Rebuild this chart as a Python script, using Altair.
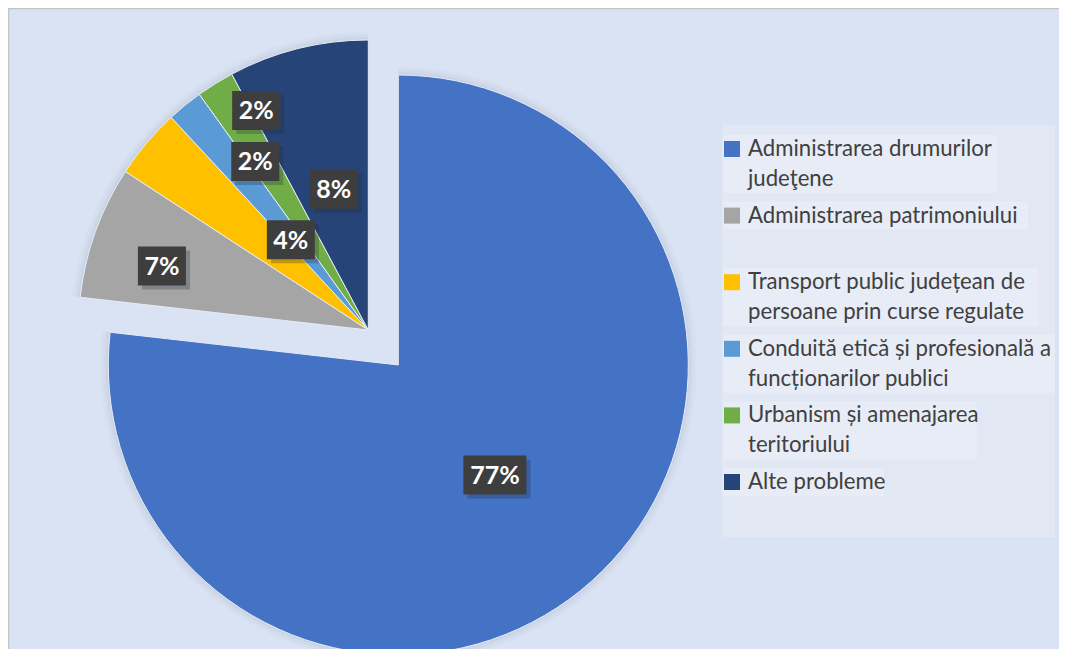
import math
import altair as alt
import pandas as pd

# ---------------- data ----------------
categories = [
    "Administrarea drumurilor judeţene",
    "Administrarea patrimoniului",
    "Transport public județean de persoane prin curse regulate",
    "Conduită etică și profesională a funcționarilor publici",
    "Urbanism și amenajarea teritoriului",
    "Alte probleme",
]
values = [76.8, 7.4, 3.9, 2.0, 2.1, 7.8]
legend_lines = [
    ["Administrarea drumurilor", "judeţene"],
    ["Administrarea patrimoniului"],
    ["Transport public județean de", "persoane prin curse regulate"],
    ["Conduită etică și profesională a", "funcționarilor publici"],
    ["Urbanism și amenajarea", "teritoriului"],
    ["Alte probleme"],
]

# ---------------- style / layout ----------------
colors = ["#4472C4", "#A5A5A5", "#FFC000", "#5B9BD5", "#70AD47", "#264478"]
W, H = 1051, 641
R = 290
main_center = (390.3, 357.0)
explode_center = (360.3, 322.0)
# data-label placement (Excel "best fit"): radius fraction, angular nudge (deg)
label_radius = [0.505, 0.745, 0.41, 0.70, 0.85, 0.50]
label_nudge = [0.5, -2.6, 9.2, 5.4, 4.8, 0.3]
BG = "#DAE3F3"
FONT = "Lato"

df = pd.DataFrame({
    "category": categories,
    "value": values,
    "order": list(range(len(categories))),
    "lr": label_radius,
    "nudge": label_nudge,
})

xs = alt.Scale(domain=[0, W], range=[0, W], nice=False, zero=False)
ys = alt.Scale(domain=[0, H], range=[0, H], nice=False, zero=False)
ts = alt.Scale(domain=[0, 1], range=[0, 2 * math.pi])
cscale = alt.Scale(domain=categories, range=colors)

base = (
    alt.Chart(df)
    .transform_joinaggregate(total="sum(value)")
    .transform_window(cum="sum(value)", sort=[alt.SortField("order")], frame=[None, 0])
    .transform_calculate(
        t0="(datum.cum - datum.value) / datum.total",
        t1="datum.cum / datum.total",
        cx=f"datum.order == 0 ? {main_center[0]} : {explode_center[0]}",
        cy=f"datum.order == 0 ? {main_center[1]} : {explode_center[1]}",
    )
    .transform_calculate(
        ang="PI * (datum.t0 + datum.t1) + datum.nudge * PI / 180",
        label="format(datum.value, '.0f') + '%'",
    )
    .transform_calculate(
        lx=f"datum.cx + {R} * datum.lr * sin(datum.ang)",
        ly=f"datum.cy - {R} * datum.lr * cos(datum.ang)",
        hw="9 + 7.5 * length(datum.label)",
    )
    .transform_calculate(
        bx0="datum.lx - datum.hw",
        bx1="datum.lx + datum.hw",
        by0="datum.ly - 19.5",
        by1="datum.ly + 19.5",
        sx0="datum.lx - datum.hw + 4",
        sx1="datum.lx + datum.hw + 4",
        sy0="datum.ly - 19.5 + 4",
        sy1="datum.ly + 19.5 + 4",
    )
)

pos = dict(
    x=alt.X("cx:Q", scale=xs, axis=None),
    y=alt.Y("cy:Q", scale=ys, axis=None),
    theta=alt.Theta("t0:Q", scale=ts, stack=None),
    theta2="t1:Q",
)

shadows = [
    base.mark_arc(radius=R + r_add, fill="#44546A", opacity=op).encode(**pos)
    for r_add, op in [(8, 0.025), (5, 0.035), (2.5, 0.045)]
]

arcs = base.mark_arc(radius=R, stroke="#E6ECF7", strokeWidth=1).encode(
    **pos,
    color=alt.Color("category:N", scale=cscale, legend=None),
)

box_shadow = base.mark_rect(fill="#1F2A3A", opacity=0.28).encode(
    x=alt.X("sx0:Q", scale=xs, axis=None), x2="sx1:Q",
    y=alt.Y("sy0:Q", scale=ys, axis=None), y2="sy1:Q",
)
boxes = base.mark_rect(fill="#3E3E3E").encode(
    x=alt.X("bx0:Q", scale=xs, axis=None), x2="bx1:Q",
    y=alt.Y("by0:Q", scale=ys, axis=None), y2="by1:Q",
)
labels = base.mark_text(
    font=FONT, fontSize=25, fontWeight="bold", color="white",
    align="center", baseline="middle", dy=1,
).encode(
    x=alt.X("lx:Q", scale=xs, axis=None),
    y=alt.Y("ly:Q", scale=ys, axis=None),
    text="label:N",
)

# ---------------- legend (drawn manually) ----------------
leg_rows = []
for i, (cat, lines) in enumerate(zip(categories, legend_lines)):
    for j, t in enumerate(lines):
        leg_rows.append({"category": cat, "entry": i, "line": j, "text": t,
                         "nlines": len(lines), "maxlen": max(len(s) for s in lines)})
leg_df = pd.DataFrame(leg_rows)

leg_base = alt.Chart(leg_df).transform_calculate(
    ey="141 + datum.entry * 66.6",
    ty="141 + datum.entry * 66.6 + datum.line * 30",
    bgx0="715",
    bgx1="min(740 + datum.maxlen * 10.3 + 2, 1047)",
    bgy0="141 + datum.entry * 66.6 - 14",
    bgy1="141 + datum.entry * 66.6 + (datum.nlines - 1) * 30 + 14",
    mx="724",
    tx="740",
)

leg_box = alt.Chart(pd.DataFrame({"a": [0]})).transform_calculate(
    x0="714", x1="1047", y0="117", y1="529"
).mark_rect(fill="#E1E7F3").encode(
    x=alt.X("x0:Q", scale=xs, axis=None), x2="x1:Q",
    y=alt.Y("y0:Q", scale=ys, axis=None), y2="y1:Q",
)

leg_bg = leg_base.transform_filter("datum.line == 0").mark_rect(fill="#E7ECF6").encode(
    x=alt.X("bgx0:Q", scale=xs, axis=None), x2="bgx1:Q",
    y=alt.Y("bgy0:Q", scale=ys, axis=None), y2="bgy1:Q",
)

leg_marks = leg_base.transform_filter("datum.line == 0").mark_square(
    size=256, opacity=1, filled=True
).encode(
    x=alt.X("mx:Q", scale=xs, axis=None),
    y=alt.Y("ey:Q", scale=ys, axis=None),
    color=alt.Color("category:N", scale=cscale, legend=None),
)

leg_text = leg_base.mark_text(
    font=FONT, fontSize=22.2, color="#404040", align="left", baseline="middle"
).encode(
    x=alt.X("tx:Q", scale=xs, axis=None),
    y=alt.Y("ty:Q", scale=ys, axis=None),
    text="text:N",
)

# frame: only top and left edges are visible in the reference
frame_left = alt.Chart(pd.DataFrame({"a": [0]})).mark_rule(
    color="#C4C4C4", strokeWidth=1.5
).encode(x=alt.value(0.5), y=alt.value(0), y2=alt.value(H))
frame_top = alt.Chart(pd.DataFrame({"a": [0]})).mark_rule(
    color="#C4C4C4", strokeWidth=1.5
).encode(y=alt.value(0.5), x=alt.value(0), x2=alt.value(W))

chart = alt.layer(
    *shadows, arcs, box_shadow, boxes, labels,
    leg_box, leg_bg, leg_marks, leg_text, frame_left, frame_top,
).properties(
    width=W, height=H, padding=0, autosize=alt.AutoSizeParams(type="none"),
    background=BG,
).configure_view(strokeWidth=0)

chart.save("out.html", embed_options={"renderer": "svg", "actions": False})
